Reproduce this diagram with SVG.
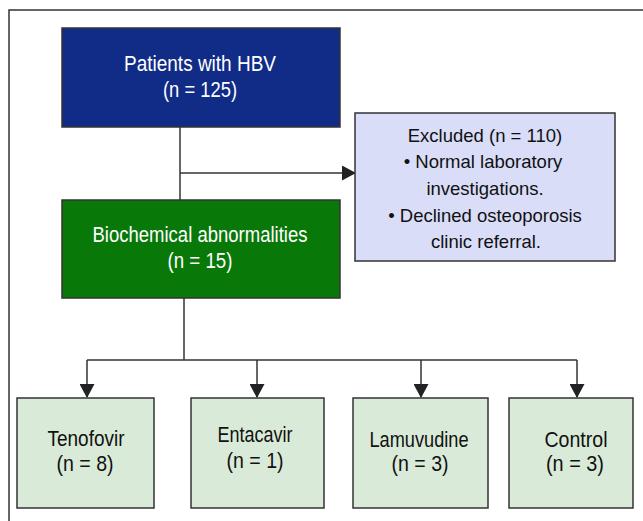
<svg xmlns="http://www.w3.org/2000/svg" width="643" height="521" viewBox="0 0 643 521">
<style>
.box{stroke:#333;stroke-width:1.5}
.t{font-family:"Liberation Sans",Arial,sans-serif;font-size:22px;text-anchor:middle}
.s{font-size:18.5px}
.w{fill:#fff}
.k{fill:#111}
.c{stroke:#333;stroke-width:1.5;fill:none}
</style>
<defs>
<marker id="ah" markerWidth="14" markerHeight="15" refX="13" refY="7.5" orient="auto" markerUnits="userSpaceOnUse">
<path d="M0,0 L14,7.5 L0,15 Z" fill="#222"/>
</marker>
</defs>
<rect width="643" height="521" fill="#fff"/>
<path d="M9,521 V10 H643" fill="none" stroke="#333" stroke-width="1.5"/>
<g id="connectors">
<path class="c" d="M180,127 V200"/>
<path class="c" d="M180,173 H355" marker-end="url(#ah)"/>
<path class="c" d="M184,298 V360"/>
<path class="c" d="M87,360 H577"/>
<path class="c" d="M87,360 V397" marker-end="url(#ah)"/>
<path class="c" d="M257,360 V397" marker-end="url(#ah)"/>
<path class="c" d="M421,360 V397" marker-end="url(#ah)"/>
<path class="c" d="M577,360 V397" marker-end="url(#ah)"/>
</g>
<g id="patients">
<rect class="box" x="62" y="28" width="278" height="99" fill="#102c87"/>
<text class="t w" x="200" y="71" textLength="152" lengthAdjust="spacingAndGlyphs">Patients with HBV</text>
<text class="t w" x="200" y="97" textLength="74" lengthAdjust="spacingAndGlyphs">(n = 125)</text>
</g>
<g id="excluded">
<rect class="box" x="355" y="113" width="260" height="148" fill="#d9ddf8"/>
<text class="t s k" x="485" y="142">Excluded (n = 110)</text>
<text class="t s k" x="483" y="168">• Normal laboratory</text>
<text class="t s k" x="485" y="195">investigations.</text>
<text class="t s k" x="485" y="222">• Declined osteoporosis</text>
<text class="t s k" x="486" y="248">clinic referral.</text>
</g>
<g id="biochem">
<rect class="box" x="62" y="200" width="278" height="98" fill="#087808"/>
<text class="t w" x="200" y="242" textLength="215" lengthAdjust="spacingAndGlyphs">Biochemical abnormalities</text>
<text class="t w" x="200" y="268" textLength="65" lengthAdjust="spacingAndGlyphs">(n = 15)</text>
</g>
<g id="tenofovir">
<rect class="box" x="17" y="398" width="137" height="110" fill="#d9ebd8"/>
<text class="t k" x="86" y="446" textLength="77" lengthAdjust="spacingAndGlyphs">Tenofovir</text>
<text class="t k" x="85" y="471" textLength="57" lengthAdjust="spacingAndGlyphs">(n = 8)</text>
</g>
<g id="entacavir">
<rect class="box" x="191" y="398" width="133" height="110" fill="#d9ebd8"/>
<text class="t k" x="255" y="442" textLength="75" lengthAdjust="spacingAndGlyphs">Entacavir</text>
<text class="t k" x="255" y="468" textLength="57" lengthAdjust="spacingAndGlyphs">(n = 1)</text>
</g>
<g id="lamuvudine">
<rect class="box" x="353" y="398" width="135" height="110" fill="#d9ebd8"/>
<text class="t k" x="419" y="447" textLength="99" lengthAdjust="spacingAndGlyphs">Lamuvudine</text>
<text class="t k" x="420" y="471" textLength="57" lengthAdjust="spacingAndGlyphs">(n = 3)</text>
</g>
<g id="control">
<rect class="box" x="509" y="398" width="124" height="110" fill="#d9ebd8"/>
<text class="t k" x="576" y="447" textLength="63" lengthAdjust="spacingAndGlyphs">Control</text>
<text class="t k" x="575" y="471" textLength="58" lengthAdjust="spacingAndGlyphs">(n = 3)</text>
</g>
</svg>
